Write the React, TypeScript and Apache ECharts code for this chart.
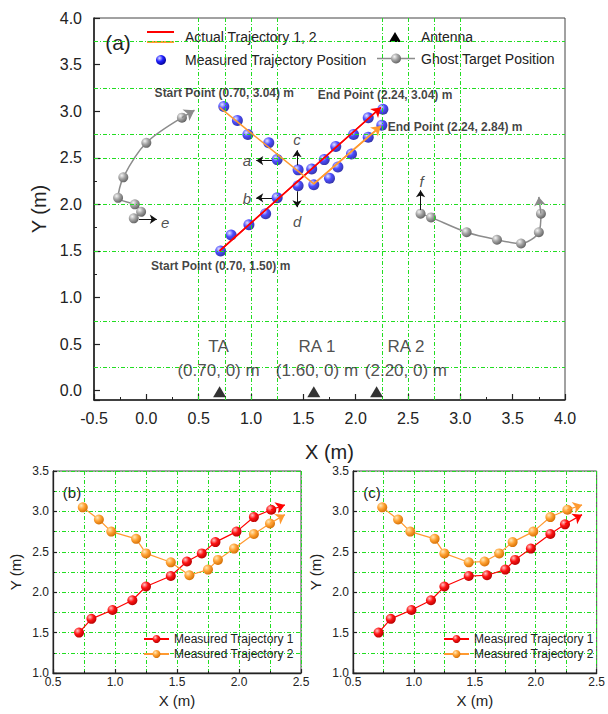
import React, { useEffect, useRef } from 'react';
import * as echarts from 'echarts';

const FONT = '"Liberation Sans", Arial, Helvetica, sans-serif';

// ---------- Panel (a) data ----------
const actualTrajectory1: number[][] = [[0.70, 1.50], [2.24, 3.04]];
const actualTrajectory2: number[][] = [[0.70, 3.04], [1.60, 2.22], [2.24, 2.84]];

const measuredTrajectory1: number[][] = [
  [0.71, 1.50], [0.81, 1.67], [0.98, 1.78], [1.14, 1.90], [1.25, 2.07], [1.45, 2.20],
  [1.58, 2.38], [1.70, 2.48], [1.81, 2.62], [1.98, 2.75], [2.12, 2.93], [2.26, 3.02],
];
const measuredTrajectory2: number[][] = [
  [0.74, 3.05], [0.87, 2.90], [0.97, 2.75], [1.17, 2.66], [1.25, 2.48], [1.45, 2.37],
  [1.60, 2.21], [1.75, 2.28], [1.83, 2.40], [1.96, 2.54], [2.12, 2.72], [2.25, 2.85],
];

const ghostLeft: number[][] = [
  [-0.12, 1.85], [-0.05, 1.92], [-0.11, 2.00], [-0.27, 2.07], [-0.22, 2.29], [0.00, 2.66], [0.34, 2.93],
];
const ghostLeftTip: number[] = [0.46, 3.01];
const ghostRight: number[][] = [
  [2.62, 1.90], [2.72, 1.86], [3.06, 1.70], [3.35, 1.62], [3.58, 1.58], [3.75, 1.70], [3.77, 1.90],
];
const ghostRightTip: number[] = [3.75, 2.08];

const antennaX: number[] = [0.70, 1.60, 2.20];
const antennaNames: string[] = ['TA', 'RA 1', 'RA 2'];
const antennaCoordTexts: string[] = ['(0.70, 0) m', '(1.60, 0) m', '(2.20, 0) m'];
const antennaLabelX: number[] = [0.69, 1.63, 2.48];
const antennaNameY = 0.47;
const antennaCoordY = 0.22;

const pointNotes: [string, number, number][] = [
  ['Start Point (0.70, 3.04) m', 0.745, 3.20],
  ['End Point (2.24, 3.04) m', 2.28, 3.17],
  ['End Point (2.24, 2.84) m', 2.95, 2.83],
  ['Start Point (0.70, 1.50) m', 0.71, 1.34],
];

const letterMarks: [string, number, number][] = [
  ['a', 0.96, 2.47], ['b', 0.96, 2.06], ['c', 1.44, 2.70], ['d', 1.44, 1.82], ['e', 0.18, 1.81], ['f', 2.63, 2.25],
];
const letterArrows: number[][][] = [
  [[1.20, 2.47], [1.05, 2.47]],
  [[1.20, 2.07], [1.05, 2.07]],
  [[1.44, 2.42], [1.44, 2.58]],
  [[1.44, 2.14], [1.44, 1.97]],
  [[-0.07, 1.84], [0.10, 1.84]],
  [[2.62, 1.94], [2.62, 2.15]],
];

const gridLinesX: number[] = [0.5, 0.75, 1.0, 1.25, 2.25, 2.5, 2.75, 3.0];
const gridLinesY: number[] = [0.25, 0.75, 1.5, 2.0, 2.5, 2.75, 3.25, 3.75];

// ---------- Panels (b) and (c) data ----------
const panelB1: number[][] = measuredTrajectory1;
const panelB2: number[][] = measuredTrajectory2;
const panelBTip1: number[] = [2.37, 3.08];
const panelBTip2: number[] = [2.37, 2.96];

const panelC1: number[][] = [
  [0.71, 1.50], [0.81, 1.67], [0.98, 1.78], [1.14, 1.90], [1.25, 2.07], [1.45, 2.20],
  [1.60, 2.21], [1.75, 2.28], [1.83, 2.40], [1.96, 2.54], [2.12, 2.72], [2.24, 2.84],
];
const panelC2: number[][] = [
  [0.74, 3.05], [0.87, 2.90], [0.97, 2.75], [1.17, 2.66], [1.25, 2.48], [1.45, 2.37],
  [1.58, 2.38], [1.70, 2.48], [1.81, 2.62], [1.98, 2.75], [2.12, 2.93], [2.26, 3.02],
];
const panelCTip1: number[] = [2.38, 2.96];
const panelCTip2: number[] = [2.38, 3.08];

const seriesName1 = 'Measured Trajectory 1';
const seriesName2 = 'Measured Trajectory 2';

// ---------- styles ----------
const GREEN = '#22dd22';
const RED = '#ff0000';
const ORANGE = '#ff9a30';
const GRAY = '#8c8c8c';
const AXIS = '#222';

const ball = (hi: string, mid: string, lo: string) => ({
  type: 'radial', x: 0.35, y: 0.32, r: 0.75,
  colorStops: [{ offset: 0, color: hi }, { offset: 0.45, color: mid }, { offset: 1, color: lo }],
});
const BLUE_BALL = ball('#dcdcff', '#2020ff', '#000088');
const GRAY_BALL = ball('#f4f4f4', '#a4a4a4', '#5c5c5c');
const RED_BALL = ball('#ffc4c4', '#ff1414', '#b00000');
const ORANGE_BALL = ball('#ffe8b8', '#ffa234', '#d06a00');

const arrowMark = (segments: number[][][], color: string, width: number, size: number) => ({
  silent: true,
  symbol: ['none', 'arrow'],
  symbolSize: size,
  label: { show: false },
  emphasis: { disabled: true },
  lineStyle: { color, width, type: 'solid' },
  data: segments.map(([a, b]) => [{ coord: a }, { coord: b }]),
});

const textSeries = (items: [string, number, number][], style: any) => ({
  type: 'scatter', xAxisIndex: 0, yAxisIndex: 0, symbolSize: 0, silent: true, z: 8,
  data: items.map(([t, x, y]) => ({ name: t, value: [x, y] })),
  label: { show: true, position: 'inside', formatter: '{b}', fontFamily: FONT, ...style },
});

const fmt1 = (v: number) => v.toFixed(1);

function buildOption(): any {
  const baseAxis = (gridIndex: number, big: boolean) => ({
    gridIndex,
    type: 'value',
    axisLine: { show: true, onZero: false, lineStyle: { color: AXIS, width: big ? 1.6 : 1.3 } },
    axisTick: { show: true, inside: true, length: big ? 6 : 4, lineStyle: { color: AXIS, width: 1.2 } },
    minorTick: { show: true, splitNumber: 2, length: big ? 3 : 2, lineStyle: { color: AXIS, width: 1 } },
    axisLabel: { fontSize: big ? 16 : 12, color: AXIS, fontFamily: FONT, formatter: fmt1 },
    nameLocation: 'middle',
    nameTextStyle: { fontSize: big ? 20 : 15, color: AXIS, fontFamily: FONT },
  });
  const smallSplit = {
    splitLine: { show: true, lineStyle: { color: GREEN, width: 1, type: [4, 2, 1, 2] } },
    minorSplitLine: { show: true, lineStyle: { color: GREEN, width: 1, type: [4, 2, 1, 2] } },
  };

  const smallPanelSeries = (idx: number, d1: number[][], d2: number[][], t1: number[], t2: number[]) => [
    {
      name: seriesName1, type: 'line', xAxisIndex: idx, yAxisIndex: idx, data: d1, z: 4,
      symbol: 'circle', symbolSize: 10, itemStyle: { color: RED_BALL },
      lineStyle: { color: RED, width: 1.2 },
      markLine: arrowMark([[d1[d1.length - 1], t1]], RED, 1.2, 9),
    },
    {
      name: seriesName2, type: 'line', xAxisIndex: idx, yAxisIndex: idx, data: d2, z: 4,
      symbol: 'circle', symbolSize: 10, itemStyle: { color: ORANGE_BALL },
      lineStyle: { color: ORANGE, width: 1.2 },
      markLine: arrowMark([[d2[d2.length - 1], t2]], ORANGE, 1.2, 9),
    },
  ];

  const legendSmall = (left: number) => ({
    data: [seriesName1, seriesName2],
    left, top: 633, orient: 'vertical', padding: 0,
    itemWidth: 25, itemHeight: 10, itemGap: 3,
    selectedMode: false,
    textStyle: { fontSize: 12, color: '#222', fontFamily: FONT },
  });

  const legendText = (text: string, x: number, y: number) => ({
    type: 'text', x, y,
    style: { text, fontSize: 14, fontFamily: FONT, fill: '#222', verticalAlign: 'middle', align: 'left' },
  });

  return {
    animation: false,
    backgroundColor: '#ffffff',
    grid: [
      { left: 94, top: 18, width: 471, height: 382, show: true, borderColor: '#444', borderWidth: 1, backgroundColor: 'transparent' },
      { left: 53, top: 471, width: 248, height: 202, show: true, borderColor: '#444', borderWidth: 1, backgroundColor: 'transparent' },
      { left: 353, top: 471, width: 248, height: 202, show: true, borderColor: '#444', borderWidth: 1, backgroundColor: 'transparent' },
    ],
    xAxis: [
      { ...baseAxis(0, true), min: -0.5, max: 4.0, interval: 0.5, name: 'X (m)', nameGap: 42,
        axisLabel: { ...baseAxis(0, true).axisLabel, margin: 10 }, splitLine: { show: false } },
      { ...baseAxis(1, false), min: 0.5, max: 2.5, interval: 0.5, name: 'X (m)', nameGap: 20,
        axisLabel: { ...baseAxis(1, false).axisLabel, margin: 3 }, ...smallSplit },
      { ...baseAxis(2, false), min: 0.5, max: 2.5, interval: 0.5, name: 'X (m)', nameGap: 20,
        axisLabel: { ...baseAxis(2, false).axisLabel, margin: 3 }, ...smallSplit },
    ],
    yAxis: [
      { ...baseAxis(0, true), min: -0.1, max: 4.0, splitNumber: 8, name: 'Y (m)', nameGap: 42,
        axisLabel: { ...baseAxis(0, true).axisLabel, margin: 12, showMinLabel: false }, splitLine: { show: false } },
      { ...baseAxis(1, false), min: 1.0, max: 3.5, interval: 0.5, name: 'Y (m)', nameGap: 30,
        axisLabel: { ...baseAxis(1, false).axisLabel, margin: 4 }, ...smallSplit },
      { ...baseAxis(2, false), min: 1.0, max: 3.5, interval: 0.5, name: 'Y (m)', nameGap: 30,
        axisLabel: { ...baseAxis(2, false).axisLabel, margin: 4 }, ...smallSplit },
    ],
    legend: [legendSmall(143), legendSmall(443)],
    series: [
      // grid lines of panel (a)
      {
        type: 'line', xAxisIndex: 0, yAxisIndex: 0, data: [[-0.5, -0.1]], symbol: 'none', silent: true, z: 1,
        lineStyle: { opacity: 0 },
        markLine: {
          silent: true, symbol: ['none', 'none'], label: { show: false }, emphasis: { disabled: true },
          lineStyle: { color: GREEN, width: 1, type: [4, 2, 1, 2] },
          data: [...gridLinesX.map((v) => ({ xAxis: v })), ...gridLinesY.map((v) => ({ yAxis: v }))],
        },
      },
      // ghost target positions
      {
        name: 'Ghost Target Position', type: 'line', xAxisIndex: 0, yAxisIndex: 0, data: ghostLeft, z: 3,
        smooth: 0.3, symbol: 'circle', symbolSize: 10, itemStyle: { color: GRAY_BALL },
        lineStyle: { color: GRAY, width: 1.5 },
        markLine: arrowMark([[ghostLeft[ghostLeft.length - 1], ghostLeftTip]], GRAY, 1.5, 10),
      },
      {
        name: 'Ghost Target Position', type: 'line', xAxisIndex: 0, yAxisIndex: 0, data: ghostRight, z: 3,
        smooth: 0.3, symbol: 'circle', symbolSize: 10, itemStyle: { color: GRAY_BALL },
        lineStyle: { color: GRAY, width: 1.5 },
        markLine: arrowMark([[ghostRight[ghostRight.length - 1], ghostRightTip]], GRAY, 1.5, 9),
      },
      // measured positions
      {
        name: 'Measured Trajectory Position', type: 'scatter', xAxisIndex: 0, yAxisIndex: 0, z: 4,
        data: [...measuredTrajectory1, ...measuredTrajectory2], symbolSize: 11,
        itemStyle: { color: BLUE_BALL },
      },
      // actual trajectories
      {
        name: 'Actual Trajectory 1', type: 'line', xAxisIndex: 0, yAxisIndex: 0, data: actualTrajectory1, z: 5,
        symbol: 'none', lineStyle: { color: RED, width: 1.5 },
        markLine: arrowMark([[actualTrajectory1[actualTrajectory1.length - 2], actualTrajectory1[actualTrajectory1.length - 1]]], RED, 1.5, 9),
      },
      {
        name: 'Actual Trajectory 2', type: 'line', xAxisIndex: 0, yAxisIndex: 0, data: actualTrajectory2, z: 5,
        symbol: 'none', lineStyle: { color: ORANGE, width: 1.5 },
        markLine: arrowMark([[actualTrajectory2[actualTrajectory2.length - 2], actualTrajectory2[actualTrajectory2.length - 1]]], ORANGE, 1.5, 9),
      },
      // antennas
      {
        name: 'Antenna', type: 'scatter', xAxisIndex: 0, yAxisIndex: 0, z: 6,
        data: antennaX.map((x) => [x, 0]), symbol: 'triangle', symbolSize: [13, 11], symbolOffset: [0, 1],
        itemStyle: { color: '#000' },
      },
      textSeries(antennaNames.map((n, i) => [n, antennaLabelX[i], antennaNameY] as [string, number, number]),
        { fontSize: 17, color: '#222' }),
      textSeries(antennaCoordTexts.map((n, i) => [n, antennaLabelX[i], antennaCoordY] as [string, number, number]),
        { fontSize: 17, color: '#222' }),
      textSeries(pointNotes, { fontSize: 12, fontWeight: 'bold', color: '#111' }),
      textSeries(letterMarks, { fontSize: 15, fontStyle: 'italic', color: '#222' }),
      // annotation arrows
      {
        type: 'line', xAxisIndex: 0, yAxisIndex: 0, data: [[-0.5, -0.1]], symbol: 'none', silent: true, z: 7,
        lineStyle: { opacity: 0 },
        markLine: arrowMark(letterArrows, '#111', 1, 7),
      },
      // panels (b) and (c)
      ...smallPanelSeries(1, panelB1, panelB2, panelBTip1, panelBTip2),
      ...smallPanelSeries(2, panelC1, panelC2, panelCTip1, panelCTip2),
    ],
    graphic: [
      { type: 'text', x: 118, y: 42, style: { text: '(a)', fontSize: 21, fontFamily: FONT, fill: '#222', align: 'center', verticalAlign: 'middle' } },
      { type: 'text', x: 72, y: 492, style: { text: '(b)', fontSize: 15, fontFamily: FONT, fill: '#222', align: 'center', verticalAlign: 'middle' } },
      { type: 'text', x: 372, y: 492, style: { text: '(c)', fontSize: 15, fontFamily: FONT, fill: '#222', align: 'center', verticalAlign: 'middle' } },
      // legend of panel (a)
      { type: 'line', shape: { x1: 147, y1: 32, x2: 174, y2: 32 }, style: { stroke: RED, lineWidth: 2 } },
      { type: 'line', shape: { x1: 147, y1: 42, x2: 174, y2: 42 }, style: { stroke: ORANGE, lineWidth: 2 } },
      legendText('Actual Trajectory 1, 2', 185, 37),
      { type: 'circle', shape: { cx: 161, cy: 60, r: 5 }, style: { fill: BLUE_BALL } },
      legendText('Measured Trajectory Position', 185, 60),
      { type: 'polygon', shape: { points: [[389, 42], [401, 42], [395, 32]] }, style: { fill: '#000' } },
      legendText('Antenna', 421, 37),
      { type: 'line', shape: { x1: 377, y1: 58.5, x2: 415, y2: 58.5 }, style: { stroke: GRAY, lineWidth: 1.5 } },
      { type: 'circle', shape: { cx: 396, cy: 58.5, r: 5 }, style: { fill: GRAY_BALL } },
      legendText('Ghost Target Position', 421, 59),
    ],
  };
}

export default function App() {
  const ref = useRef<HTMLDivElement>(null);
  useEffect(() => {
    if (!ref.current) return;
    const chart = echarts.init(ref.current, null, { renderer: 'svg' });
    chart.setOption(buildOption());
    return () => chart.dispose();
  }, []);
  return (
    <div
      ref={ref}
      style={{ position: 'fixed', left: 0, top: 0, width: 608, height: 714, background: '#fff' }}
    />
  );
}
